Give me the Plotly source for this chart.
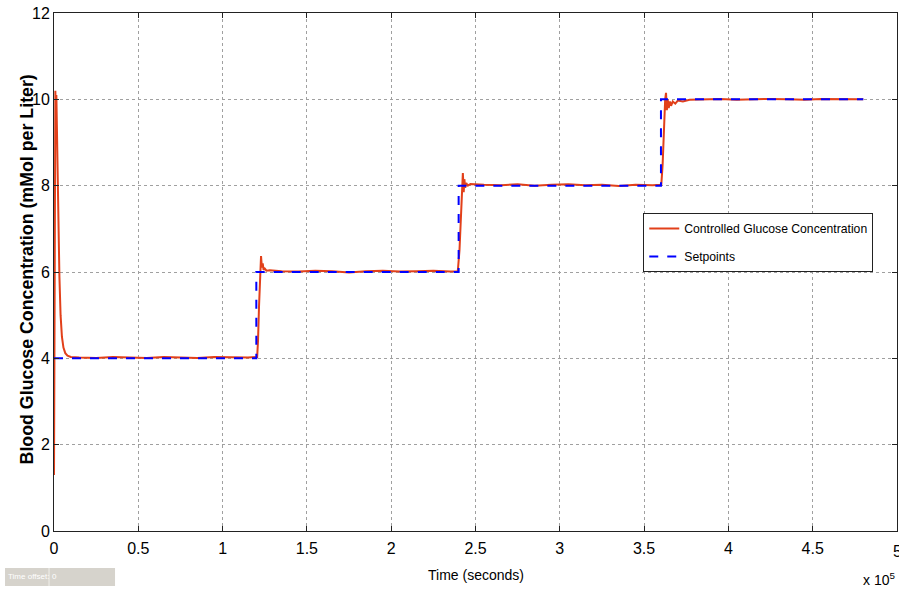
import plotly.graph_objects as go

# Controlled glucose concentration (time in seconds, mMol/L)
t_ctrl = [0, 200, 500, 800, 1100, 1400, 1700, 2100, 2600, 3200, 3900, 4700, 5600, 6700, 8000,
          10000, 15000, 25000, 35000, 45000, 55000, 65000, 75000, 85000, 95000, 105000, 115000,
          120500, 121000, 121600, 122200, 122800, 123300, 123800, 124300, 125000, 126000, 128000,
          135000, 145000, 155000, 165000, 175000, 185000, 195000, 205000, 215000, 225000, 235000,
          239500, 240500, 241200, 241900, 242500, 243000, 243400, 243900, 244500, 245500, 247000,
          255000, 265000, 275000, 285000, 295000, 305000, 315000, 325000, 335000, 345000, 355000,
          360200, 361000, 361800, 362500, 363000, 363500, 364000, 364600, 365300, 366000, 367000,
          368500, 370000, 373000, 377000, 385000, 395000, 405000, 415000, 425000, 435000, 445000,
          455000, 465000, 475000, 480000]
g_ctrl = [1.3, 4.5, 8.5, 10.2, 9.6, 10.1, 9.4, 8.3, 7.0, 5.9, 5.0, 4.5, 4.25, 4.12, 4.06,
          4.03, 4.02, 4.01, 4.03, 4.02, 4.01, 4.03, 4.02, 4.01, 4.03, 4.02, 4.02,
          4.03, 4.4, 5.2, 6.0, 6.37, 6.1, 6.2, 6.05, 6.08, 6.03, 6.04,
          6.02, 6.01, 6.03, 6.02, 5.99, 6.02, 6.03, 6.01, 6.02, 6.03, 6.01,
          6.02, 6.5, 7.3, 8.0, 8.29, 7.85, 8.15, 7.95, 8.06, 8.0, 8.04,
          8.02, 8.01, 8.03, 8.0, 8.02, 8.03, 8.01, 8.02, 7.99, 8.02, 8.01,
          8.02, 8.5, 9.4, 10.0, 10.15, 9.75, 10.0, 9.8, 9.95, 9.85, 9.95,
          9.9, 9.97, 9.95, 9.99, 10.0, 10.01, 9.99, 10.0, 10.01, 10.0, 9.99,
          10.01, 10.0, 9.99, 10.0]

# Setpoints
t_set = [0, 120000, 120000, 240000, 240000, 360000, 360000, 480000]
g_set = [4, 4, 6, 6, 8, 8, 10, 10]

x_tickvals = [0, 50000, 100000, 150000, 200000, 250000, 300000, 350000, 400000, 450000, 500000]
x_ticktext = ["0", "0.5", "1", "1.5", "2", "2.5", "3", "3.5", "4", "4.5", "5"]
y_tickvals = [0, 2, 4, 6, 8, 10, 12]

FONT = "Liberation Sans, Arial, sans-serif"

fig = go.Figure()
fig.add_trace(go.Scatter(x=t_ctrl, y=g_ctrl, mode="lines", name="Controlled Glucose Concentration",
                         legendgroup="ctrl", line=dict(color="#E2401A", width=2)))
fig.add_trace(go.Scatter(x=t_set, y=g_set, mode="lines", name="Setpoints",
                         legendgroup="set", line=dict(color="#0000FF", width=2, dash="dash")))

axis_common = dict(showline=True, linecolor="#222", linewidth=1, mirror="ticks", ticks="inside",
                   ticklen=5, tickcolor="#222", showgrid=True, gridcolor="#a0a0a0", griddash="dot",
                   gridwidth=1, zeroline=False, automargin=False,
                   tickfont=dict(family=FONT, size=16, color="#000"))

fig.update_layout(
    width=899, height=592,
    margin=dict(l=54, r=2, t=13, b=61, autoexpand=False),
    paper_bgcolor="white", plot_bgcolor="white",
    xaxis=dict(range=[0, 500000], tickvals=x_tickvals, ticktext=x_ticktext,
               ticklabelstandoff=3, **axis_common),
    yaxis=dict(range=[0, 12], tickvals=y_tickvals, **axis_common),
    legend=dict(x=0.699, y=0.614, xanchor="left", yanchor="top", bgcolor="white",
                bordercolor="#222", borderwidth=1, font=dict(family=FONT, size=12.2, color="#000"),
                tracegroupgap=9, itemwidth=30),
    showlegend=True,
)

# last x tick label (sits on the right edge of the page)
fig.add_annotation(xref="x", yref="paper", x=x_tickvals[-1], y=-0.019, xanchor="center", yanchor="top",
                   text=x_ticktext[-1], showarrow=False,
                   font=dict(family=FONT, size=16, color="#000"))

# x-axis title
fig.add_annotation(xref="paper", yref="paper", x=0.5, y=-0.085, xanchor="center", yanchor="middle",
                   text="Time (seconds)", showarrow=False,
                   font=dict(family=FONT, size=14, color="#000"))

# y-axis title placed as rotated text
fig.add_annotation(xref="paper", yref="paper", x=-0.032, y=0.505, xanchor="center", yanchor="middle",
                   textangle=-90, showarrow=False,
                   text="<b>Blood Glucose Concentration (mMol per Liter)</b>",
                   font=dict(family=FONT, size=17.8, color="#000"))

fig.add_annotation(xref="paper", yref="paper", x=1.0, y=-0.093, xanchor="right", yanchor="middle",
                   text="x 10<sup>5</sup>", showarrow=False,
                   font=dict(family=FONT, size=14, color="#000"))

# "Time offset" box
fig.add_shape(type="rect", xref="paper", yref="paper", x0=-0.0581, x1=0.0724, y0=-0.0714, y1=-0.1062,
              fillcolor="#d6d3cc", line=dict(width=0), layer="above")
fig.add_shape(type="line", xref="paper", yref="paper", x0=-0.0059, x1=-0.0059, y0=-0.0714, y1=-0.1062,
              line=dict(color="#f0efeb", width=1), layer="above")
fig.add_annotation(xref="paper", yref="paper", x=-0.057, y=-0.0888, xanchor="left", yanchor="middle",
                   text="Time offset:", showarrow=False,
                   font=dict(family=FONT, size=8, color="#ffffff"))
fig.add_annotation(xref="paper", yref="paper", x=-0.0045, y=-0.0888, xanchor="left", yanchor="middle",
                   text="0", showarrow=False,
                   font=dict(family=FONT, size=8, color="#ffffff"))

fig.write_html("out.html", config={"displayModeBar": False},
               post_script="document.body.style.margin='0';document.body.style.overflow='hidden';")
